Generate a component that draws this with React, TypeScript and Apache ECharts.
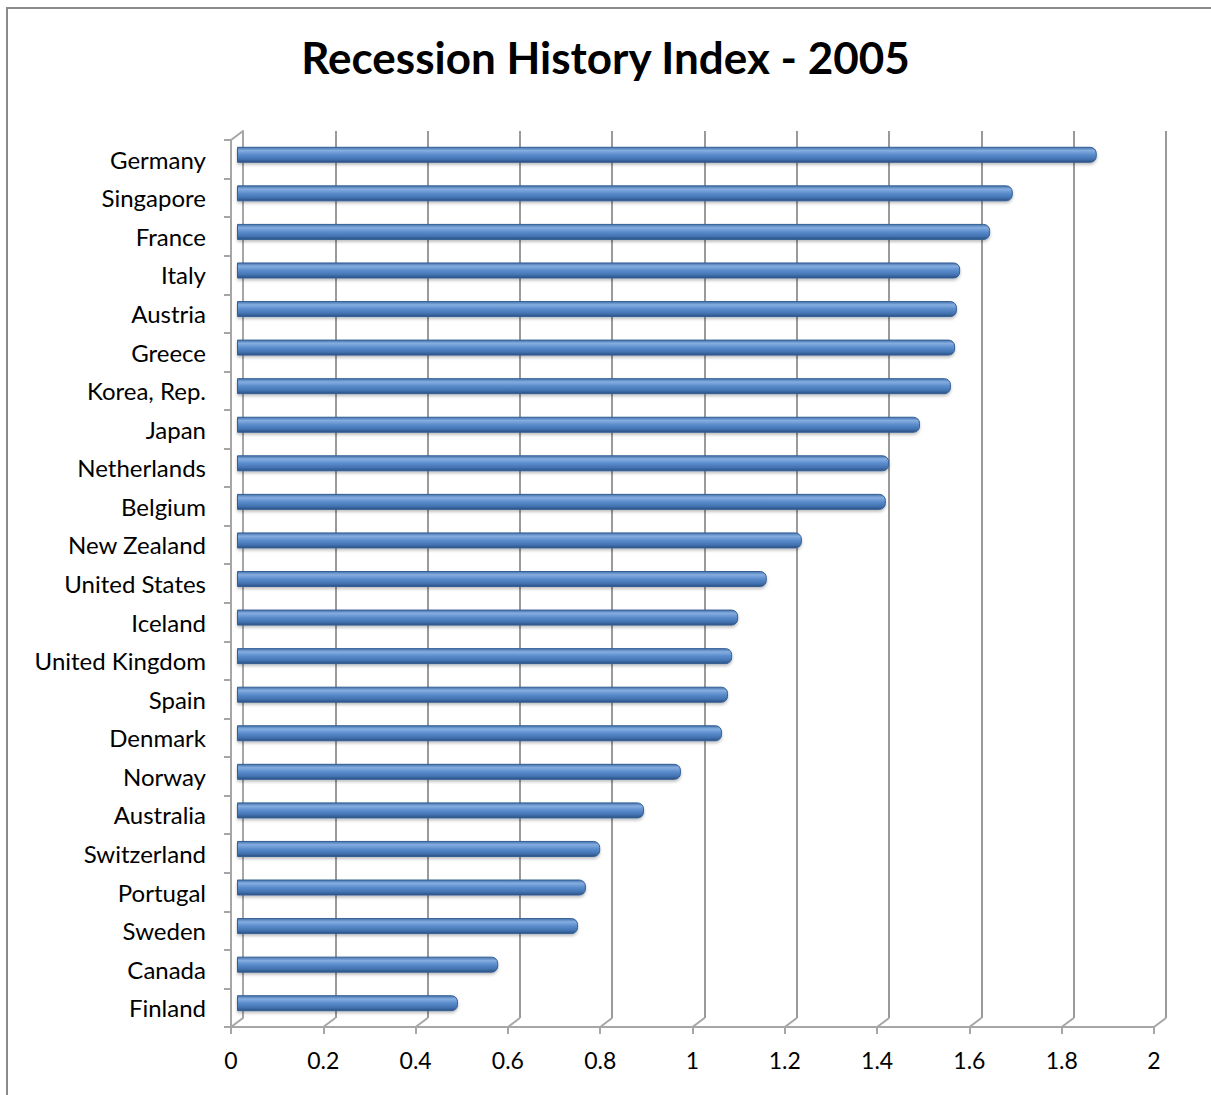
import React, { useEffect, useRef } from "react";
import * as echarts from "echarts";

const CATEGORIES = [
  "Germany", "Singapore", "France", "Italy", "Austria", "Greece", "Korea, Rep.",
  "Japan", "Netherlands", "Belgium", "New Zealand", "United States", "Iceland",
  "United Kingdom", "Spain", "Denmark", "Norway", "Australia", "Switzerland",
  "Portugal", "Sweden", "Canada", "Finland",
];
const VALUES = [
  1.863, 1.681, 1.632, 1.567, 1.56, 1.556, 1.547,
  1.48, 1.413, 1.406, 1.224, 1.148, 1.086,
  1.073, 1.064, 1.051, 0.962, 0.882, 0.787,
  0.756, 0.739, 0.566, 0.479,
];
const TICKS = [0, 0.2, 0.4, 0.6, 0.8, 1, 1.2, 1.4, 1.6, 1.8, 2];
const TITLE = "Recession History Index - 2005";

const FONT = "Lato, 'Open Sans', sans-serif";
const GRID_COLOR = "#a6a6a6";
const DX = 12;
const DY = -9;

export default function App() {
  const ref = useRef<HTMLDivElement>(null);
  useEffect(() => {
    const chart = echarts.init(ref.current!, null, { renderer: "svg" });
    const lastCat = CATEGORIES[CATEGORIES.length - 1];
    const firstCat = CATEGORIES[0];
    chart.setOption({
      animation: false,
      backgroundColor: "#ffffff",
      title: {
        text: TITLE,
        left: "center",
        top: 30,
        textStyle: { fontFamily: FONT, fontWeight: "bold", fontSize: 44, color: "#000" },
      },
      graphic: [
        {
          type: "rect",
          shape: { x: 7, y: 8, width: 1400, height: 1300 },
          style: { fill: "none", stroke: "#8a8a8a", lineWidth: 2 },
          silent: true,
        },
      ],
      grid: [
        { left: 231, right: 57, top: 140, bottom: 68 },
        { left: 231 + DX, right: 57 - DX, top: 140 + DY, bottom: 68 - DY },
        { left: 237, right: 51, top: 135.5, bottom: 72.5 },
      ],
      xAxis: [
        {
          gridIndex: 0, type: "value", min: 0, max: 2, interval: 0.2,
          axisLine: { show: true, lineStyle: { color: GRID_COLOR, width: 2 } },
          axisTick: { show: true, length: 7, lineStyle: { color: GRID_COLOR, width: 2 } },
          axisLabel: { fontFamily: FONT, fontSize: 23, color: "#000", margin: 21 },
          splitLine: { show: false },
        },
        {
          gridIndex: 1, type: "value", min: 0, max: 2, interval: 0.2,
          axisLine: { show: false }, axisTick: { show: false }, axisLabel: { show: false },
          splitLine: { show: true, lineStyle: { color: "#9a9a9a", width: 2 } },
        },
        {
          gridIndex: 2, type: "value", min: 0, max: 2, interval: 0.2, show: false,
        },
      ],
      yAxis: [
        {
          gridIndex: 0, type: "category", data: CATEGORIES, inverse: true,
          axisLine: { show: true, lineStyle: { color: GRID_COLOR, width: 2 } },
          axisTick: { show: true, length: 7, lineStyle: { color: GRID_COLOR, width: 2 } },
          axisLabel: { fontFamily: FONT, fontSize: 24, color: "#000", margin: 25 },
        },
        {
          gridIndex: 1, type: "category", data: CATEGORIES, inverse: true,
          axisLine: { show: true, lineStyle: { color: GRID_COLOR, width: 2 } },
          axisTick: { show: false }, axisLabel: { show: false },
        },
        {
          gridIndex: 2, type: "category", data: CATEGORIES, inverse: true, show: false,
        },
      ],
      series: [
        {
          type: "custom",
          xAxisIndex: 0,
          yAxisIndex: 0,
          silent: true,
          data: TICKS.map((t) => [t, lastCat]),
          renderItem: (params: any, api: any) => {
            const v = api.value(0);
            const p = api.coord([v, lastCat]);
            const s = api.size([0, 1]);
            const y0 = p[1] + s[1] / 2;
            const children: any[] = [
              {
                type: "line",
                shape: { x1: p[0], y1: y0, x2: p[0] + DX, y2: y0 + DY },
                style: { stroke: GRID_COLOR, lineWidth: 2 },
              },
            ];
            if (params.dataIndex === 0) {
              const q = api.coord([v, firstCat]);
              const yt = q[1] - s[1] / 2;
              children.push({
                type: "line",
                shape: { x1: q[0], y1: yt, x2: q[0] + DX, y2: yt + DY },
                style: { stroke: GRID_COLOR, lineWidth: 2 },
              });
            }
            return { type: "group", children };
          },
          z: 1,
        },
        {
          type: "bar",
          xAxisIndex: 2,
          yAxisIndex: 2,
          data: VALUES,
          barWidth: 16,
          z: 5,
          itemStyle: {
            borderRadius: [0, 6, 6, 0],
            borderColor: "#355f94",
            borderWidth: 1,
            shadowColor: "rgba(0,0,0,0.25)",
            shadowBlur: 3,
            shadowOffsetY: 2,
            color: new echarts.graphic.LinearGradient(0, 0, 0, 1, [
              { offset: 0, color: "#4574ad" },
              { offset: 0.22, color: "#85ade0" },
              { offset: 0.5, color: "#5a8ccc" },
              { offset: 0.8, color: "#4272b0" },
              { offset: 1, color: "#2a5082" },
            ]),
          },
        },
      ],
    });
    return () => chart.dispose();
  }, []);
  return (
    <div
      ref={ref}
      style={{ position: "absolute", left: 0, top: 0, width: 1211, height: 1095 }}
    />
  );
}
